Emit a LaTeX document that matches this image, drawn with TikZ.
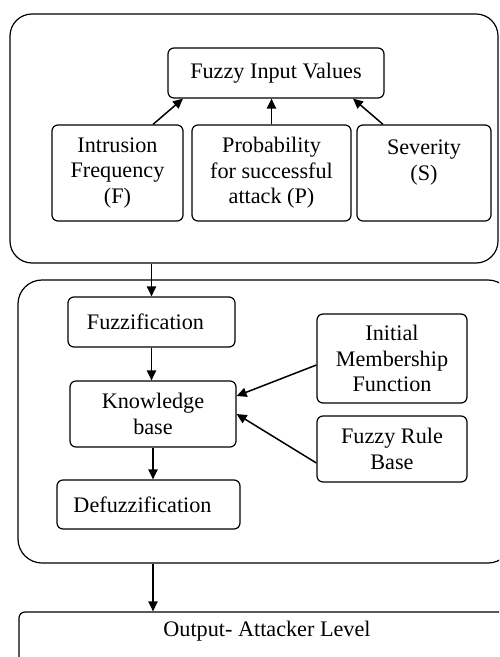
\documentclass[tikz,border=0pt]{standalone}
\usepackage{fontspec}
\setmainfont{Liberation Serif}
\usetikzlibrary{arrows.meta}

\tikzset{
	blk/.style={draw, line width=0.6pt, rounded corners=3pt, align=center, inner sep=0pt},
	grp/.style={draw, line width=0.6pt, rounded corners=11pt, inner sep=0pt},
	flow/.style={line width=0.75pt, -{Triangle[length=5pt,width=4.6pt]}}
}

\begin{document}
\begin{tikzpicture}[x=0.5pt, y=-0.5pt, font=\fontsize{11.1}{12.7}\selectfont]
		
		\useasboundingbox (0,0) rectangle (499,657);
		\clip (0,0) rectangle (499,657);
		
		% Input group
		\node [grp,
		minimum width=244pt,
		minimum height=124.5pt] (inbox) at (254,138.5){};
		
		\node [blk, minimum width=108pt, minimum height=25pt] (fiv) at (276,73) {Fuzzy Input Values};
		
		\node [blk, minimum width=65.5pt, minimum height=48pt] (intr) at (117.5,173) {Intrusion\\Frequency\\(F)};
		
		\node [blk, minimum width=79.5pt, minimum height=48pt] (prob) at (271.5,173) {Probability\\for successful\\attack (P)};
		
		\node [blk, minimum width=67pt, minimum height=48pt] (sev) at (424,173) {Severity\\(S)\\~};
		
		\draw [flow] ([xshift=17.75pt]intr.north) -- ([xshift=-46.5pt]fiv.south);
		\draw [flow] (prob.north) -- (prob.north |- fiv.south);
		\draw [flow] ([xshift=-20.5pt]sev.north) -- ([xshift=38.5pt]fiv.south);
		
		% Processing group
		\node [grp,
		rounded corners=12pt,
		minimum width=247pt,
		minimum height=141.5pt] (procbox) at (265,421.5){};
		
		\node [blk, minimum width=83.5pt, minimum height=25pt] (fuzz) at (151.5,322) {Fuzzification\hspace{6pt}};
		
		\node [blk, minimum width=83pt, minimum height=33pt] (kb) at (153,414) {Knowledge\\base};
		
		\node [blk, minimum width=91.5pt, minimum height=24.5pt] (defuzz) at (148.5,504.5) {Defuzzification\hspace{6pt}};
		
		\node [blk, minimum width=75pt, minimum height=44.5pt] (imf) at (392,358.5) {Initial\\Membership\\Function};
		
		\node [blk, minimum width=75pt, minimum height=33pt] (frb) at (392,449) {Fuzzy Rule\\Base};
		
		\draw [flow] (inbox.south -| fuzz.north) -- (fuzz.north);
		\draw [flow] (fuzz.south) -- (fuzz.south |- kb.north);
		\draw [flow] (kb.south) -- (kb.south |- defuzz.north);
		\draw [flow] ([yshift=-3.25pt]imf.west) -- ([yshift=9pt]kb.east);
		\draw [flow] ([yshift=-7pt]frb.west) -- (kb.east);
		
		% Output
		\node [blk,
		minimum width=248pt,
		minimum height=44pt,
		label={[anchor=center, yshift=-10pt]north:Output- Attacker Level}] (outbox) at (267,656){};
		
		\draw [flow] (procbox.south -| kb.south) -- (outbox.north -| kb.south);
		
	\end{tikzpicture}
\end{document}
